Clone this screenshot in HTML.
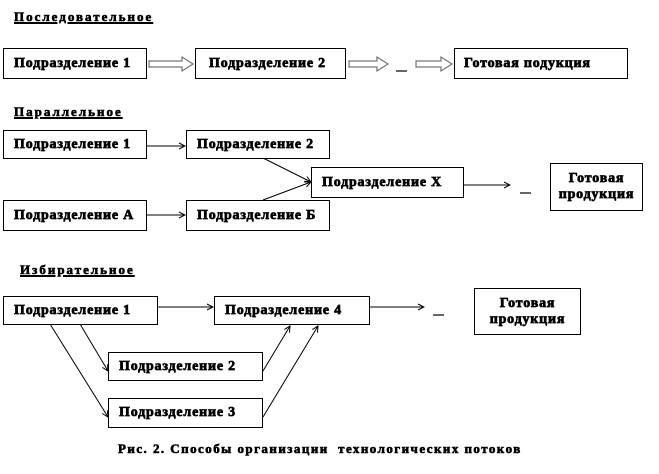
<!DOCTYPE html>
<html><head><meta charset="utf-8"><style>
body{margin:0;background:#fff;width:659px;height:474px;overflow:hidden;position:relative;font-family:"Liberation Serif",serif;font-weight:bold;font-size:14px;color:#000}
.b{position:absolute;border:1px solid #000;box-sizing:border-box;background:#fff;display:flex;align-items:center;padding-left:10px;line-height:16px;-webkit-text-stroke:0.7px #000;letter-spacing:0.8px;white-space:nowrap}
.c{justify-content:center;text-align:center;padding-left:0}
.t{position:absolute;text-decoration:underline;text-decoration-thickness:2px;-webkit-text-stroke:0.6px #000;font-size:13px;letter-spacing:2px}
svg{position:absolute;left:0;top:0}
</style></head><body>
<svg width="659" height="474">
<defs><marker id="a" markerWidth="8" markerHeight="8" refX="7" refY="4" orient="auto" markerUnits="userSpaceOnUse"><path d="M1,1 L7,4 L1,7" fill="none" stroke="#000" stroke-width="1"/></marker></defs>
<g fill="#fff" stroke="#555" stroke-width="1">
<path d="M149,61 H182 V57 L193,64 L182,71 V67 H149 Z"/>
<path d="M349,61 H377 V57 L388,64 L377,71 V67 H349 Z"/>
<path d="M416,61 H441 V57 L452,64 L441,71 V67 H416 Z"/>
</g>
<g stroke="#000" stroke-width="1" fill="none" marker-end="url(#a)">
<line x1="147" y1="146" x2="185" y2="146"/>
<line x1="147" y1="215" x2="185" y2="215"/>
<line x1="263" y1="158" x2="311" y2="182"/>
<line x1="263" y1="200" x2="311" y2="182"/>
<line x1="463" y1="185" x2="510" y2="185"/>
<line x1="157" y1="307" x2="213" y2="307"/>
<line x1="369" y1="307" x2="424" y2="307"/>
<line x1="80" y1="324" x2="108" y2="371"/>
<line x1="50" y1="324" x2="108" y2="417"/>
<line x1="263" y1="371" x2="290" y2="326"/>
<line x1="263" y1="417" x2="318" y2="326"/>
</g>
<g stroke="#000" stroke-width="1.2">
<line x1="396" y1="71" x2="407" y2="71"/>
<line x1="520" y1="193" x2="531" y2="193"/>
<line x1="433" y1="315" x2="444" y2="315"/>
</g>
</svg>
<div class="t" style="left:14px;top:9px">Последовательное</div>
<div class="b" style="left:3px;top:48px;width:144px;height:31px">Подразделение 1</div>
<div class="b" style="left:195px;top:48px;width:151px;height:31px;padding-left:13px">Подразделение 2</div>
<div class="b" style="left:454px;top:48px;width:174px;height:31px;padding-left:9px">Готовая подукция</div>
<div class="t" style="left:14px;top:104px">Параллельное</div>
<div class="b" style="left:3px;top:130px;width:144px;height:29px">Подразделение 1</div>
<div class="b" style="left:186px;top:130px;width:144px;height:29px">Подразделение 2</div>
<div class="b" style="left:311px;top:167px;width:153px;height:31px">Подразделение Х</div>
<div class="b c" style="left:550px;top:163px;width:93px;height:48px">Готовая<br>продукция</div>
<div class="b" style="left:3px;top:200px;width:144px;height:31px">Подразделение А</div>
<div class="b" style="left:186px;top:200px;width:144px;height:31px">Подразделение Б</div>
<div class="t" style="left:20px;top:262px">Избирательное</div>
<div class="b" style="left:3px;top:296px;width:155px;height:29px">Подразделение 1</div>
<div class="b" style="left:214px;top:296px;width:156px;height:29px">Подразделение 4</div>
<div class="b c" style="left:474px;top:288px;width:107px;height:47px">Готовая<br>продукция</div>
<div class="b" style="left:108px;top:352px;width:155px;height:29px">Подразделение 2</div>
<div class="b" style="left:108px;top:398px;width:155px;height:30px">Подразделение 3</div>
<div style="position:absolute;left:118px;top:441px;font-size:13px;letter-spacing:1.45px;white-space:nowrap;-webkit-text-stroke:0.6px #000">Рис. 2. Способы организации&nbsp; технологических потоков</div>
</body></html>
